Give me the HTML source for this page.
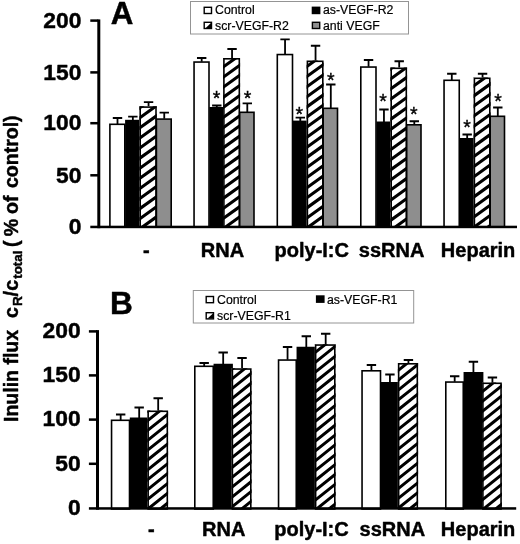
<!DOCTYPE html>
<html><head><meta charset="utf-8"><title>Figure</title>
<style>html,body{margin:0;padding:0;background:#fff;}svg{display:block;filter:blur(0.45px);}text{font-family:'Liberation Sans', sans-serif;fill:#000;}text[font-weight=bold]{stroke:#000;stroke-width:0.45px;stroke-linejoin:round;}</style>
</head><body>
<svg width="520" height="544" viewBox="0 0 520 544">
<defs>
</defs>
<rect width="520" height="544" fill="#fff"/>
<path d="M117.50 124.00V118.00M112.80 118.00H122.20" stroke="#000" stroke-width="1.8" fill="none"/>
<rect x="109.90" y="124.30" width="14.90" height="102.70" fill="#fff" stroke="#000" stroke-width="1.6"/>
<path d="M132.85 120.30V116.60M128.15 116.60H137.55" stroke="#000" stroke-width="1.8" fill="none"/>
<rect x="125.10" y="119.80" width="15.60" height="106.40" fill="#000"/>
<path d="M148.55 106.80V102.20M143.85 102.20H153.25" stroke="#000" stroke-width="1.8" fill="none"/>
<rect x="139.40" y="106.30" width="17.40" height="119.90" fill="#fff"/>
<clipPath id="c1"><rect x="139.40" y="106.30" width="17.40" height="119.90"/></clipPath>
<path clip-path="url(#c1)" d="M138.40 76.47L157.80 62.50V66.30L138.40 80.27ZM138.40 86.57L157.80 72.60V76.40L138.40 90.37ZM138.40 96.67L157.80 82.70V86.50L138.40 100.47ZM138.40 106.77L157.80 92.80V96.60L138.40 110.57ZM138.40 116.87L157.80 102.90V106.70L138.40 120.67ZM138.40 126.97L157.80 113.00V116.80L138.40 130.77ZM138.40 137.07L157.80 123.10V126.90L138.40 140.87ZM138.40 147.17L157.80 133.20V137.00L138.40 150.97ZM138.40 157.27L157.80 143.30V147.10L138.40 161.07ZM138.40 167.37L157.80 153.40V157.20L138.40 171.17ZM138.40 177.47L157.80 163.50V167.30L138.40 181.27ZM138.40 187.57L157.80 173.60V177.40L138.40 191.37ZM138.40 197.67L157.80 183.70V187.50L138.40 201.47ZM138.40 207.77L157.80 193.80V197.60L138.40 211.57ZM138.40 217.87L157.80 203.90V207.70L138.40 221.67ZM138.40 227.97L157.80 214.00V217.80L138.40 231.77ZM138.40 238.07L157.80 224.10V227.90L138.40 241.87ZM138.40 248.17L157.80 234.20V238.00L138.40 251.97Z" fill="#000"/>
<rect x="140.20" y="107.10" width="15.80" height="119.90" fill="none" stroke="#000" stroke-width="1.6"/>
<path d="M164.25 118.80V112.60M159.55 112.60H168.95" stroke="#000" stroke-width="1.8" fill="none"/>
<rect x="156.40" y="119.10" width="14.80" height="107.90" fill="#8e8e8e" stroke="#000" stroke-width="1.6"/>
<path d="M201.68 61.75V58.00M196.98 58.00H206.38" stroke="#000" stroke-width="1.8" fill="none"/>
<rect x="194.05" y="62.05" width="14.95" height="164.95" fill="#fff" stroke="#000" stroke-width="1.6"/>
<path d="M216.80 107.50V105.50M212.10 105.50H221.50" stroke="#000" stroke-width="1.8" fill="none"/>
<rect x="209.30" y="107.00" width="15.10" height="119.20" fill="#000"/>
<path d="M232.05 58.50V49.00M227.35 49.00H236.75" stroke="#000" stroke-width="1.8" fill="none"/>
<rect x="223.10" y="58.00" width="17.00" height="168.20" fill="#fff"/>
<clipPath id="c2"><rect x="223.10" y="58.00" width="17.00" height="168.20"/></clipPath>
<path clip-path="url(#c2)" d="M222.10 35.67L241.10 21.99V25.79L222.10 39.47ZM222.10 45.77L241.10 32.09V35.89L222.10 49.57ZM222.10 55.87L241.10 42.19V45.99L222.10 59.67ZM222.10 65.97L241.10 52.29V56.09L222.10 69.77ZM222.10 76.07L241.10 62.39V66.19L222.10 79.87ZM222.10 86.17L241.10 72.49V76.29L222.10 89.97ZM222.10 96.27L241.10 82.59V86.39L222.10 100.07ZM222.10 106.37L241.10 92.69V96.49L222.10 110.17ZM222.10 116.47L241.10 102.79V106.59L222.10 120.27ZM222.10 126.57L241.10 112.89V116.69L222.10 130.37ZM222.10 136.67L241.10 122.99V126.79L222.10 140.47ZM222.10 146.77L241.10 133.09V136.89L222.10 150.57ZM222.10 156.87L241.10 143.19V146.99L222.10 160.67ZM222.10 166.97L241.10 153.29V157.09L222.10 170.77ZM222.10 177.07L241.10 163.39V167.19L222.10 180.87ZM222.10 187.17L241.10 173.49V177.29L222.10 190.97ZM222.10 197.27L241.10 183.59V187.39L222.10 201.07ZM222.10 207.37L241.10 193.69V197.49L222.10 211.17ZM222.10 217.47L241.10 203.79V207.59L222.10 221.27ZM222.10 227.57L241.10 213.89V217.69L222.10 231.37ZM222.10 237.67L241.10 223.99V227.79L222.10 241.47ZM222.10 247.77L241.10 234.09V237.89L222.10 251.57Z" fill="#000"/>
<rect x="223.90" y="58.80" width="15.40" height="168.20" fill="none" stroke="#000" stroke-width="1.6"/>
<path d="M247.30 112.00V103.30M242.60 103.30H252.00" stroke="#000" stroke-width="1.8" fill="none"/>
<rect x="239.70" y="112.30" width="14.30" height="114.70" fill="#8e8e8e" stroke="#000" stroke-width="1.6"/>
<path d="M285.05 54.25V39.30M280.35 39.30H289.75" stroke="#000" stroke-width="1.8" fill="none"/>
<rect x="277.30" y="54.55" width="15.20" height="172.45" fill="#fff" stroke="#000" stroke-width="1.6"/>
<path d="M300.30 121.10V117.70M295.60 117.70H305.00" stroke="#000" stroke-width="1.8" fill="none"/>
<rect x="292.80" y="120.60" width="15.10" height="105.60" fill="#000"/>
<path d="M315.55 61.00V45.75M310.85 45.75H320.25" stroke="#000" stroke-width="1.8" fill="none"/>
<rect x="306.60" y="60.50" width="17.00" height="165.70" fill="#fff"/>
<clipPath id="c3"><rect x="306.60" y="60.50" width="17.00" height="165.70"/></clipPath>
<path clip-path="url(#c3)" d="M305.60 35.17L324.60 21.49V25.29L305.60 38.97ZM305.60 45.27L324.60 31.59V35.39L305.60 49.07ZM305.60 55.37L324.60 41.69V45.49L305.60 59.17ZM305.60 65.47L324.60 51.79V55.59L305.60 69.27ZM305.60 75.57L324.60 61.89V65.69L305.60 79.37ZM305.60 85.67L324.60 71.99V75.79L305.60 89.47ZM305.60 95.77L324.60 82.09V85.89L305.60 99.57ZM305.60 105.87L324.60 92.19V95.99L305.60 109.67ZM305.60 115.97L324.60 102.29V106.09L305.60 119.77ZM305.60 126.07L324.60 112.39V116.19L305.60 129.87ZM305.60 136.17L324.60 122.49V126.29L305.60 139.97ZM305.60 146.27L324.60 132.59V136.39L305.60 150.07ZM305.60 156.37L324.60 142.69V146.49L305.60 160.17ZM305.60 166.47L324.60 152.79V156.59L305.60 170.27ZM305.60 176.57L324.60 162.89V166.69L305.60 180.37ZM305.60 186.67L324.60 172.99V176.79L305.60 190.47ZM305.60 196.77L324.60 183.09V186.89L305.60 200.57ZM305.60 206.87L324.60 193.19V196.99L305.60 210.67ZM305.60 216.97L324.60 203.29V207.09L305.60 220.77ZM305.60 227.07L324.60 213.39V217.19L305.60 230.87ZM305.60 237.17L324.60 223.49V227.29L305.60 240.97ZM305.60 247.27L324.60 233.59V237.39L305.60 251.07Z" fill="#000"/>
<rect x="307.40" y="61.30" width="15.40" height="165.70" fill="none" stroke="#000" stroke-width="1.6"/>
<path d="M330.80 108.00V84.50M326.10 84.50H335.50" stroke="#000" stroke-width="1.8" fill="none"/>
<rect x="323.20" y="108.30" width="14.30" height="118.70" fill="#8e8e8e" stroke="#000" stroke-width="1.6"/>
<path d="M368.55 66.75V60.00M363.85 60.00H373.25" stroke="#000" stroke-width="1.8" fill="none"/>
<rect x="360.80" y="67.05" width="15.20" height="159.95" fill="#fff" stroke="#000" stroke-width="1.6"/>
<path d="M383.95 122.00V109.50M379.25 109.50H388.65" stroke="#000" stroke-width="1.8" fill="none"/>
<rect x="376.30" y="121.50" width="15.40" height="104.70" fill="#000"/>
<path d="M399.20 68.00V61.25M394.50 61.25H403.90" stroke="#000" stroke-width="1.8" fill="none"/>
<rect x="390.40" y="67.50" width="16.70" height="158.70" fill="#fff"/>
<clipPath id="c4"><rect x="390.40" y="67.50" width="16.70" height="158.70"/></clipPath>
<path clip-path="url(#c4)" d="M389.40 37.47L408.10 24.01V27.81L389.40 41.27ZM389.40 47.57L408.10 34.11V37.91L389.40 51.37ZM389.40 57.67L408.10 44.21V48.01L389.40 61.47ZM389.40 67.77L408.10 54.31V58.11L389.40 71.57ZM389.40 77.87L408.10 64.41V68.21L389.40 81.67ZM389.40 87.97L408.10 74.51V78.31L389.40 91.77ZM389.40 98.07L408.10 84.61V88.41L389.40 101.87ZM389.40 108.17L408.10 94.71V98.51L389.40 111.97ZM389.40 118.27L408.10 104.81V108.61L389.40 122.07ZM389.40 128.37L408.10 114.91V118.71L389.40 132.17ZM389.40 138.47L408.10 125.01V128.81L389.40 142.27ZM389.40 148.57L408.10 135.11V138.91L389.40 152.37ZM389.40 158.67L408.10 145.21V149.01L389.40 162.47ZM389.40 168.77L408.10 155.31V159.11L389.40 172.57ZM389.40 178.87L408.10 165.41V169.21L389.40 182.67ZM389.40 188.97L408.10 175.51V179.31L389.40 192.77ZM389.40 199.07L408.10 185.61V189.41L389.40 202.87ZM389.40 209.17L408.10 195.71V199.51L389.40 212.97ZM389.40 219.27L408.10 205.81V209.61L389.40 223.07ZM389.40 229.37L408.10 215.91V219.71L389.40 233.17ZM389.40 239.47L408.10 226.01V229.81L389.40 243.27ZM389.40 249.57L408.10 236.11V239.91L389.40 253.37Z" fill="#000"/>
<rect x="391.20" y="68.30" width="15.10" height="158.70" fill="none" stroke="#000" stroke-width="1.6"/>
<path d="M414.30 124.50V121.25M409.60 121.25H419.00" stroke="#000" stroke-width="1.8" fill="none"/>
<rect x="406.70" y="124.80" width="14.30" height="102.20" fill="#8e8e8e" stroke="#000" stroke-width="1.6"/>
<path d="M451.80 80.00V73.75M447.10 73.75H456.50" stroke="#000" stroke-width="1.8" fill="none"/>
<rect x="444.05" y="80.30" width="15.20" height="146.70" fill="#fff" stroke="#000" stroke-width="1.6"/>
<path d="M467.18 138.50V134.50M462.48 134.50H471.88" stroke="#000" stroke-width="1.8" fill="none"/>
<rect x="459.55" y="138.00" width="15.35" height="88.20" fill="#000"/>
<path d="M482.55 78.00V73.75M477.85 73.75H487.25" stroke="#000" stroke-width="1.8" fill="none"/>
<rect x="473.60" y="77.50" width="17.00" height="148.70" fill="#fff"/>
<clipPath id="c5"><rect x="473.60" y="77.50" width="17.00" height="148.70"/></clipPath>
<path clip-path="url(#c5)" d="M472.60 54.47L491.60 40.79V44.59L472.60 58.27ZM472.60 64.57L491.60 50.89V54.69L472.60 68.37ZM472.60 74.67L491.60 60.99V64.79L472.60 78.47ZM472.60 84.77L491.60 71.09V74.89L472.60 88.57ZM472.60 94.87L491.60 81.19V84.99L472.60 98.67ZM472.60 104.97L491.60 91.29V95.09L472.60 108.77ZM472.60 115.07L491.60 101.39V105.19L472.60 118.87ZM472.60 125.17L491.60 111.49V115.29L472.60 128.97ZM472.60 135.27L491.60 121.59V125.39L472.60 139.07ZM472.60 145.37L491.60 131.69V135.49L472.60 149.17ZM472.60 155.47L491.60 141.79V145.59L472.60 159.27ZM472.60 165.57L491.60 151.89V155.69L472.60 169.37ZM472.60 175.67L491.60 161.99V165.79L472.60 179.47ZM472.60 185.77L491.60 172.09V175.89L472.60 189.57ZM472.60 195.87L491.60 182.19V185.99L472.60 199.67ZM472.60 205.97L491.60 192.29V196.09L472.60 209.77ZM472.60 216.07L491.60 202.39V206.19L472.60 219.87ZM472.60 226.17L491.60 212.49V216.29L472.60 229.97ZM472.60 236.27L491.60 222.59V226.39L472.60 240.07ZM472.60 246.37L491.60 232.69V236.49L472.60 250.17Z" fill="#000"/>
<rect x="474.40" y="78.30" width="15.40" height="148.70" fill="none" stroke="#000" stroke-width="1.6"/>
<path d="M497.80 116.00V107.50M493.10 107.50H502.50" stroke="#000" stroke-width="1.8" fill="none"/>
<rect x="490.20" y="116.30" width="14.30" height="110.70" fill="#8e8e8e" stroke="#000" stroke-width="1.6"/>
<rect x="97.3" y="19.4" width="3.0" height="208.80" fill="#000"/>
<rect x="90.3" y="225.7" width="426.70" height="2.5" fill="#000"/>
<rect x="90.3" y="19.35" width="8.00" height="2.5" fill="#000"/>
<rect x="90.3" y="71.15" width="8.00" height="2.5" fill="#000"/>
<rect x="90.3" y="121.95" width="8.00" height="2.5" fill="#000"/>
<rect x="90.3" y="174.05" width="8.00" height="2.5" fill="#000"/>
<path d="M120.67 420.00V414.50M115.97 414.50H125.38" stroke="#000" stroke-width="1.8" fill="none"/>
<rect x="111.55" y="420.30" width="17.95" height="88.70" fill="#fff" stroke="#000" stroke-width="1.6"/>
<path d="M139.18 418.00V407.50M134.48 407.50H143.88" stroke="#000" stroke-width="1.8" fill="none"/>
<rect x="129.80" y="417.50" width="18.85" height="90.70" fill="#000"/>
<path d="M158.18 411.00V398.25M153.48 398.25H162.88" stroke="#000" stroke-width="1.8" fill="none"/>
<rect x="147.35" y="410.50" width="20.75" height="97.70" fill="#fff"/>
<clipPath id="c6"><rect x="147.35" y="410.50" width="20.75" height="97.70"/></clipPath>
<path clip-path="url(#c6)" d="M146.35 390.18L169.10 371.98V375.78L146.35 393.98ZM146.35 400.03L169.10 381.83V385.63L146.35 403.83ZM146.35 409.88L169.10 391.68V395.48L146.35 413.68ZM146.35 419.73L169.10 401.53V405.33L146.35 423.53ZM146.35 429.58L169.10 411.38V415.18L146.35 433.38ZM146.35 439.43L169.10 421.23V425.03L146.35 443.23ZM146.35 449.28L169.10 431.08V434.88L146.35 453.08ZM146.35 459.13L169.10 440.93V444.73L146.35 462.93ZM146.35 468.98L169.10 450.78V454.58L146.35 472.78ZM146.35 478.83L169.10 460.63V464.43L146.35 482.63ZM146.35 488.68L169.10 470.48V474.28L146.35 492.48ZM146.35 498.53L169.10 480.33V484.13L146.35 502.33ZM146.35 508.38L169.10 490.18V493.98L146.35 512.18ZM146.35 518.23L169.10 500.03V503.83L146.35 522.03ZM146.35 528.08L169.10 509.88V513.68L146.35 531.88Z" fill="#000"/>
<rect x="148.15" y="411.30" width="19.15" height="97.70" fill="none" stroke="#000" stroke-width="1.6"/>
<path d="M204.18 366.00V363.00M199.48 363.00H208.88" stroke="#000" stroke-width="1.8" fill="none"/>
<rect x="194.80" y="366.30" width="18.45" height="142.70" fill="#fff" stroke="#000" stroke-width="1.6"/>
<path d="M223.18 364.25V352.50M218.48 352.50H227.88" stroke="#000" stroke-width="1.8" fill="none"/>
<rect x="213.55" y="363.75" width="19.35" height="144.45" fill="#000"/>
<path d="M242.05 368.75V358.00M237.35 358.00H246.75" stroke="#000" stroke-width="1.8" fill="none"/>
<rect x="231.60" y="368.25" width="20.00" height="139.95" fill="#fff"/>
<clipPath id="c7"><rect x="231.60" y="368.25" width="20.00" height="139.95"/></clipPath>
<path clip-path="url(#c7)" d="M230.60 348.48L252.60 330.88V334.68L230.60 352.28ZM230.60 358.33L252.60 340.73V344.53L230.60 362.13ZM230.60 368.18L252.60 350.58V354.38L230.60 371.98ZM230.60 378.03L252.60 360.43V364.23L230.60 381.83ZM230.60 387.88L252.60 370.28V374.08L230.60 391.68ZM230.60 397.73L252.60 380.13V383.93L230.60 401.53ZM230.60 407.58L252.60 389.98V393.78L230.60 411.38ZM230.60 417.43L252.60 399.83V403.63L230.60 421.23ZM230.60 427.28L252.60 409.68V413.48L230.60 431.08ZM230.60 437.13L252.60 419.53V423.33L230.60 440.93ZM230.60 446.98L252.60 429.38V433.18L230.60 450.78ZM230.60 456.83L252.60 439.23V443.03L230.60 460.63ZM230.60 466.68L252.60 449.08V452.88L230.60 470.48ZM230.60 476.53L252.60 458.93V462.73L230.60 480.33ZM230.60 486.38L252.60 468.78V472.58L230.60 490.18ZM230.60 496.23L252.60 478.63V482.43L230.60 500.03ZM230.60 506.08L252.60 488.48V492.28L230.60 509.88ZM230.60 515.93L252.60 498.33V502.13L230.60 519.73ZM230.60 525.78L252.60 508.18V511.98L230.60 529.58ZM230.60 535.63L252.60 518.03V521.83L230.60 539.43Z" fill="#000"/>
<rect x="232.40" y="369.05" width="18.40" height="139.95" fill="none" stroke="#000" stroke-width="1.6"/>
<path d="M287.55 359.75V347.00M282.85 347.00H292.25" stroke="#000" stroke-width="1.8" fill="none"/>
<rect x="278.55" y="360.05" width="17.70" height="148.95" fill="#fff" stroke="#000" stroke-width="1.6"/>
<path d="M306.30 347.25V336.25M301.60 336.25H311.00" stroke="#000" stroke-width="1.8" fill="none"/>
<rect x="296.55" y="346.75" width="19.60" height="161.45" fill="#000"/>
<path d="M325.68 344.75V333.75M320.98 333.75H330.38" stroke="#000" stroke-width="1.8" fill="none"/>
<rect x="314.85" y="344.25" width="20.75" height="163.95" fill="#fff"/>
<clipPath id="c8"><rect x="314.85" y="344.25" width="20.75" height="163.95"/></clipPath>
<path clip-path="url(#c8)" d="M313.85 322.13L336.60 303.93V307.73L313.85 325.93ZM313.85 331.98L336.60 313.78V317.58L313.85 335.78ZM313.85 341.83L336.60 323.63V327.43L313.85 345.63ZM313.85 351.68L336.60 333.48V337.28L313.85 355.48ZM313.85 361.53L336.60 343.33V347.13L313.85 365.33ZM313.85 371.38L336.60 353.18V356.98L313.85 375.18ZM313.85 381.23L336.60 363.03V366.83L313.85 385.03ZM313.85 391.08L336.60 372.88V376.68L313.85 394.88ZM313.85 400.93L336.60 382.73V386.53L313.85 404.73ZM313.85 410.78L336.60 392.58V396.38L313.85 414.58ZM313.85 420.63L336.60 402.43V406.23L313.85 424.43ZM313.85 430.48L336.60 412.28V416.08L313.85 434.28ZM313.85 440.33L336.60 422.13V425.93L313.85 444.13ZM313.85 450.18L336.60 431.98V435.78L313.85 453.98ZM313.85 460.03L336.60 441.83V445.63L313.85 463.83ZM313.85 469.88L336.60 451.68V455.48L313.85 473.68ZM313.85 479.73L336.60 461.53V465.33L313.85 483.53ZM313.85 489.58L336.60 471.38V475.18L313.85 493.38ZM313.85 499.43L336.60 481.23V485.03L313.85 503.23ZM313.85 509.28L336.60 491.08V494.88L313.85 513.08ZM313.85 519.13L336.60 500.93V504.73L313.85 522.93ZM313.85 528.98L336.60 510.78V514.58L313.85 532.78Z" fill="#000"/>
<rect x="315.65" y="345.05" width="19.15" height="163.95" fill="none" stroke="#000" stroke-width="1.6"/>
<path d="M371.43 370.50V365.00M366.73 365.00H376.12" stroke="#000" stroke-width="1.8" fill="none"/>
<rect x="362.05" y="370.80" width="18.45" height="138.20" fill="#fff" stroke="#000" stroke-width="1.6"/>
<path d="M389.93 382.50V374.50M385.23 374.50H394.62" stroke="#000" stroke-width="1.8" fill="none"/>
<rect x="380.80" y="382.00" width="18.35" height="126.20" fill="#000"/>
<path d="M408.43 363.50V360.00M403.73 360.00H413.12" stroke="#000" stroke-width="1.8" fill="none"/>
<rect x="397.85" y="363.00" width="20.25" height="145.20" fill="#fff"/>
<clipPath id="c9"><rect x="397.85" y="363.00" width="20.25" height="145.20"/></clipPath>
<path clip-path="url(#c9)" d="M396.85 340.03L419.10 322.23V326.03L396.85 343.83ZM396.85 349.88L419.10 332.08V335.88L396.85 353.68ZM396.85 359.73L419.10 341.93V345.73L396.85 363.53ZM396.85 369.58L419.10 351.78V355.58L396.85 373.38ZM396.85 379.43L419.10 361.63V365.43L396.85 383.23ZM396.85 389.28L419.10 371.48V375.28L396.85 393.08ZM396.85 399.13L419.10 381.33V385.13L396.85 402.93ZM396.85 408.98L419.10 391.18V394.98L396.85 412.78ZM396.85 418.83L419.10 401.03V404.83L396.85 422.63ZM396.85 428.68L419.10 410.88V414.68L396.85 432.48ZM396.85 438.53L419.10 420.73V424.53L396.85 442.33ZM396.85 448.38L419.10 430.58V434.38L396.85 452.18ZM396.85 458.23L419.10 440.43V444.23L396.85 462.03ZM396.85 468.08L419.10 450.28V454.08L396.85 471.88ZM396.85 477.93L419.10 460.13V463.93L396.85 481.73ZM396.85 487.78L419.10 469.98V473.78L396.85 491.58ZM396.85 497.63L419.10 479.83V483.63L396.85 501.43ZM396.85 507.48L419.10 489.68V493.48L396.85 511.28ZM396.85 517.33L419.10 499.53V503.33L396.85 521.13ZM396.85 527.18L419.10 509.38V513.18L396.85 530.98ZM396.85 537.03L419.10 519.23V523.03L396.85 540.83Z" fill="#000"/>
<rect x="398.65" y="363.80" width="18.65" height="145.20" fill="none" stroke="#000" stroke-width="1.6"/>
<path d="M454.68 381.75V376.25M449.98 376.25H459.38" stroke="#000" stroke-width="1.8" fill="none"/>
<rect x="445.80" y="382.05" width="17.45" height="126.95" fill="#fff" stroke="#000" stroke-width="1.6"/>
<path d="M473.43 372.50V361.75M468.73 361.75H478.12" stroke="#000" stroke-width="1.8" fill="none"/>
<rect x="463.55" y="372.00" width="19.85" height="136.20" fill="#000"/>
<path d="M492.43 383.00V377.50M487.73 377.50H497.12" stroke="#000" stroke-width="1.8" fill="none"/>
<rect x="482.10" y="382.50" width="19.75" height="125.70" fill="#fff"/>
<clipPath id="c10"><rect x="482.10" y="382.50" width="19.75" height="125.70"/></clipPath>
<path clip-path="url(#c10)" d="M481.10 361.13L502.85 343.73V347.53L481.10 364.93ZM481.10 370.98L502.85 353.58V357.38L481.10 374.78ZM481.10 380.83L502.85 363.43V367.23L481.10 384.63ZM481.10 390.68L502.85 373.28V377.08L481.10 394.48ZM481.10 400.53L502.85 383.13V386.93L481.10 404.33ZM481.10 410.38L502.85 392.98V396.78L481.10 414.18ZM481.10 420.23L502.85 402.83V406.63L481.10 424.03ZM481.10 430.08L502.85 412.68V416.48L481.10 433.88ZM481.10 439.93L502.85 422.53V426.33L481.10 443.73ZM481.10 449.78L502.85 432.38V436.18L481.10 453.58ZM481.10 459.63L502.85 442.23V446.03L481.10 463.43ZM481.10 469.48L502.85 452.08V455.88L481.10 473.28ZM481.10 479.33L502.85 461.93V465.73L481.10 483.13ZM481.10 489.18L502.85 471.78V475.58L481.10 492.98ZM481.10 499.03L502.85 481.63V485.43L481.10 502.83ZM481.10 508.88L502.85 491.48V495.28L481.10 512.68ZM481.10 518.73L502.85 501.33V505.13L481.10 522.53ZM481.10 528.58L502.85 511.18V514.98L481.10 532.38Z" fill="#000"/>
<rect x="482.90" y="383.30" width="18.15" height="125.70" fill="none" stroke="#000" stroke-width="1.6"/>
<rect x="96.0" y="330.1" width="3.0" height="179.60" fill="#000"/>
<rect x="88.9" y="507.2" width="427.30" height="2.5" fill="#000"/>
<rect x="88.9" y="330.15" width="8.10" height="2.5" fill="#000"/>
<rect x="88.9" y="374.15" width="8.10" height="2.5" fill="#000"/>
<rect x="88.9" y="418.35" width="8.10" height="2.5" fill="#000"/>
<rect x="88.9" y="462.55" width="8.10" height="2.5" fill="#000"/>
<text x="216.5" y="104.6" font-size="19.5" stroke="#000" stroke-width="0.35" text-anchor="middle">*</text>
<text x="247.5" y="104.6" font-size="19.5" stroke="#000" stroke-width="0.35" text-anchor="middle">*</text>
<text x="299.3" y="121.1" font-size="19.5" stroke="#000" stroke-width="0.35" text-anchor="middle">*</text>
<text x="330.75" y="87.1" font-size="19.5" stroke="#000" stroke-width="0.35" text-anchor="middle">*</text>
<text x="383" y="108.1" font-size="19.5" stroke="#000" stroke-width="0.35" text-anchor="middle">*</text>
<text x="413.75" y="121.35" font-size="19.5" stroke="#000" stroke-width="0.35" text-anchor="middle">*</text>
<text x="467" y="133.85" font-size="19.5" stroke="#000" stroke-width="0.35" text-anchor="middle">*</text>
<text x="498" y="107.6" font-size="19.5" stroke="#000" stroke-width="0.35" text-anchor="middle">*</text>
<text x="110.8" y="23.8" font-size="31.3" font-weight="bold">A</text>
<text x="110.0" y="313.8" font-size="31.6" font-weight="bold">B</text>
<text x="81.4" y="27.80" font-size="22.8" font-weight="bold" text-anchor="end">200</text>
<text x="81.4" y="79.60" font-size="22.8" font-weight="bold" text-anchor="end">150</text>
<text x="81.4" y="130.40" font-size="22.8" font-weight="bold" text-anchor="end">100</text>
<text x="81.4" y="182.50" font-size="22.8" font-weight="bold" text-anchor="end">50</text>
<text x="81.4" y="233.50" font-size="22.8" font-weight="bold" text-anchor="end">0</text>
<text x="80.6" y="338.10" font-size="22.8" font-weight="bold" text-anchor="end">200</text>
<text x="80.6" y="382.10" font-size="22.8" font-weight="bold" text-anchor="end">150</text>
<text x="80.6" y="426.30" font-size="22.8" font-weight="bold" text-anchor="end">100</text>
<text x="80.6" y="470.50" font-size="22.8" font-weight="bold" text-anchor="end">50</text>
<text x="80.6" y="514.90" font-size="22.8" font-weight="bold" text-anchor="end">0</text>
<text x="146.25" y="256.5" font-size="20" font-weight="bold" text-anchor="middle">-</text>
<text x="222.5" y="256.5" font-size="20" font-weight="bold" text-anchor="middle">RNA</text>
<text x="311.75" y="256.5" font-size="20" font-weight="bold" text-anchor="middle">poly-I:C</text>
<text x="391.6" y="256.5" font-size="20" font-weight="bold" text-anchor="middle">ssRNA</text>
<text x="478.1" y="256.5" font-size="20" font-weight="bold" text-anchor="middle">Heparin</text>
<text x="151.25" y="536" font-size="20" font-weight="bold" text-anchor="middle">-</text>
<text x="223.75" y="536" font-size="20" font-weight="bold" text-anchor="middle">RNA</text>
<text x="311.5" y="536" font-size="20" font-weight="bold" text-anchor="middle">poly-I:C</text>
<text x="392.4" y="536" font-size="20" font-weight="bold" text-anchor="middle">ssRNA</text>
<text x="478.1" y="536" font-size="20" font-weight="bold" text-anchor="middle">Heparin</text>
<text transform="translate(17.60,422.0) rotate(-90)" font-size="19.5" font-weight="bold">Inulin flux</text>
<text transform="translate(17.60,318.0) rotate(-90)" font-size="19.5" font-weight="bold">c</text>
<text transform="translate(22.40,305.9) rotate(-90)" font-size="13.6" font-weight="bold">R</text>
<text transform="translate(17.60,296.4) rotate(-90)" font-size="19.5" font-weight="bold">/</text>
<text transform="translate(17.60,290.8) rotate(-90)" font-size="19.5" font-weight="bold">c</text>
<text transform="translate(22.40,278.8) rotate(-90)" font-size="13.4" font-weight="bold">total</text>
<text transform="translate(17.60,247.0) rotate(-90)" font-size="19.5" font-weight="bold">(</text>
<text transform="translate(17.60,236.2) rotate(-90)" font-size="19.5" font-weight="bold">%</text>
<text transform="translate(17.60,214.0) rotate(-90)" font-size="19.5" font-weight="bold">of</text>
<text transform="translate(17.60,188.0) rotate(-90)" font-size="19.5" font-weight="bold">control)</text>
<rect x="190.5" y="1.5" width="218.0" height="32.5" fill="#fff" stroke="#949494" stroke-width="1"/>
<rect x="204.20" y="7.30" width="7.30" height="6.20" fill="#fff" stroke="#000" stroke-width="1.4"/>
<text x="215" y="14.3" font-size="12.3" stroke="#000" stroke-width="0.2">Control</text>
<rect x="204.20" y="22.30" width="7.30" height="6.20" fill="#fff" stroke="#000" stroke-width="1.4"/>
<path d="M211.20 22.80V28.20H205.50Z" fill="#000"/>
<text x="215" y="29.5" font-size="12.3" stroke="#000" stroke-width="0.2">scr-VEGF-R2</text>
<rect x="311.70" y="6.60" width="8.7" height="7.6" fill="#000"/>
<text x="323" y="14.3" font-size="12.3" stroke="#000" stroke-width="0.2">as-VEGF-R2</text>
<rect x="312.40" y="22.30" width="7.30" height="6.20" fill="#8e8e8e" stroke="#000" stroke-width="1.4"/>
<text x="323" y="29.5" font-size="12.3" stroke="#000" stroke-width="0.2">anti VEGF</text>
<rect x="193.3" y="290.5" width="220.39999999999998" height="32.5" fill="#fff" stroke="#949494" stroke-width="1"/>
<rect x="206.20" y="296.50" width="7.30" height="6.20" fill="#fff" stroke="#000" stroke-width="1.4"/>
<text x="217" y="303.7" font-size="12.3" stroke="#000" stroke-width="0.2">Control</text>
<rect x="206.20" y="312.70" width="7.30" height="6.20" fill="#fff" stroke="#000" stroke-width="1.4"/>
<path d="M213.20 313.20V318.60H207.50Z" fill="#000"/>
<text x="217" y="319.5" font-size="12.3" stroke="#000" stroke-width="0.2">scr-VEGF-R1</text>
<rect x="315.90" y="295.30" width="8.7" height="7.6" fill="#000"/>
<text x="327" y="303.7" font-size="12.3" stroke="#000" stroke-width="0.2">as-VEGF-R1</text>
</svg></body></html>
